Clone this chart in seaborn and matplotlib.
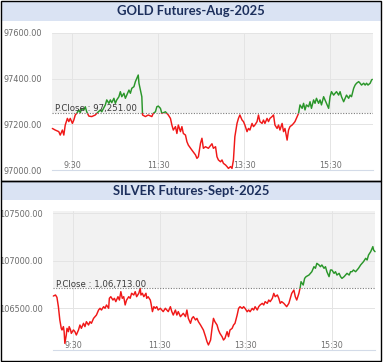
import matplotlib
matplotlib.use("Agg")
import matplotlib.pyplot as plt
import matplotlib.transforms as mtransforms
from matplotlib.patches import Rectangle
from matplotlib.ticker import FuncFormatter
import pandas as pd
import seaborn as sns

# minutes after 9:00
gold_time = [2, 6, 11, 13, 16, 18, 20, 23, 25, 27, 30, 32, 34, 36, 39, 41, 43, 46, 48, 50,
             53, 57, 62, 64, 69, 71, 76, 78, 81, 83, 85, 88, 90, 92, 95, 97, 99, 102, 104, 106,
             109, 111, 113, 116, 118, 120, 122, 123, 125, 127, 128, 132, 136, 141, 143, 146, 148, 150, 153, 155,
             160, 164, 167, 169, 171, 174, 176, 178, 181, 183, 185, 188, 190, 192, 197, 202, 204, 206, 209, 211,
             213, 216, 220, 225, 227, 230, 232, 234, 237, 239, 241, 244, 246, 248, 251, 253, 255, 257, 260, 262,
             264, 267, 269, 271, 274, 276, 278, 281, 283, 285, 288, 290, 292, 295, 297, 299, 302, 304, 306, 309,
             311, 313, 316, 318, 320, 323, 325, 327, 330, 332, 334, 337, 339, 341, 344, 346, 348, 351, 353, 355,
             357, 360, 362, 364, 367, 369, 371, 374, 376, 378, 381, 383, 385, 388, 390, 392, 395, 397, 399, 402,
             404, 406, 409, 411, 413, 416, 418, 420, 423, 425, 427, 430, 432, 434, 437, 439, 441, 443, 446, 448,
             449]
gold_price = [97182, 97175, 97168, 97153, 97175, 97153, 97197, 97226, 97212, 97226, 97204, 97219, 97241, 97248, 97263, 97251, 97270, 97263, 97277, 97255,
              97236, 97234, 97241, 97248, 97263, 97255, 97285, 97307, 97292, 97307, 97295, 97314, 97292, 97307, 97321, 97343, 97321, 97336, 97314, 97328,
              97350, 97336, 97358, 97365, 97387, 97401, 97416, 97380, 97350, 97321, 97241, 97234, 97241, 97234, 97248, 97255, 97277, 97280, 97270, 97248,
              97255, 97241, 97226, 97197, 97175, 97190, 97160, 97197, 97168, 97190, 97160, 97153, 97124, 97109, 97087, 97066, 97051, 97058, 97117, 97139,
              97095, 97102, 97095, 97115, 97095, 97102, 97058, 97044, 97036, 97044, 97029, 97022, 97015, 97007, 97015, 97007, 97044, 97146, 97204, 97226,
              97241, 97219, 97212, 97197, 97168, 97182, 97175, 97204, 97190, 97197, 97212, 97241, 97212, 97204, 97219, 97204, 97226, 97212, 97226, 97234,
              97241, 97197, 97182, 97197, 97175, 97204, 97168, 97182, 97131, 97175, 97190, 97197, 97204, 97212, 97234, 97248, 97285, 97270, 97292, 97263,
              97285, 97277, 97299, 97270, 97307, 97292, 97314, 97292, 97307, 97285, 97321, 97307, 97292, 97270, 97321, 97343, 97328, 97336, 97343, 97328,
              97343, 97321, 97299, 97314, 97328, 97314, 97328, 97321, 97358, 97372, 97380, 97387, 97380, 97372, 97380, 97372, 97380, 97372, 97380, 97394,
              97397]
gold_prev_close = 97251.00

silver_time = [2, 5, 7, 9, 11, 13, 14, 16, 17, 18, 20, 21, 23, 24, 26, 27, 30, 32, 34, 37,
               39, 41, 44, 46, 48, 51, 53, 55, 58, 60, 62, 65, 67, 69, 72, 74, 76, 79, 80, 82,
               85, 87, 89, 92, 94, 96, 98, 100, 102, 104, 107, 109, 111, 114, 116, 118, 121, 123, 124, 126,
               128, 131, 132, 134, 137, 138, 140, 142, 144, 146, 148, 151, 153, 155, 158, 160, 162, 165, 167, 169,
               172, 174, 176, 179, 181, 183, 186, 188, 190, 193, 195, 197, 200, 202, 204, 207, 211, 214, 216, 218,
               221, 223, 225, 227, 230, 232, 234, 237, 239, 241, 244, 246, 248, 251, 253, 255, 258, 260, 262, 265,
               267, 269, 272, 274, 276, 279, 281, 283, 286, 288, 290, 293, 295, 297, 300, 302, 304, 307, 309, 311,
               314, 316, 318, 320, 323, 325, 327, 330, 332, 334, 337, 339, 341, 344, 346, 347, 350, 352, 354, 358,
               360, 362, 365, 367, 369, 372, 374, 376, 379, 381, 383, 386, 388, 390, 393, 395, 397, 400, 402, 404,
               407, 409, 411, 414, 416, 418, 420, 423, 425, 427, 430, 432, 434, 437, 439, 441, 444, 446, 447, 448,
               450]
silver_price = [106631, 106642, 106617, 106519, 106379, 106291, 106274, 106309, 106256, 106133, 106221, 106291, 106256, 106309, 106274, 106238, 106274, 106256, 106221, 106274,
                106326, 106291, 106344, 106309, 106361, 106326, 106361, 106344, 106396, 106414, 106431, 106484, 106502, 106484, 106519, 106502, 106537, 106502, 106607, 106624,
                106589, 106607, 106572, 106624, 106589, 106677, 106607, 106624, 106537, 106589, 106624, 106607, 106660, 106642, 106677, 106624, 106660, 106712, 106642, 106660,
                106624, 106660, 106607, 106624, 106589, 106554, 106467, 106519, 106502, 106519, 106484, 106502, 106484, 106467, 106502, 106484, 106467, 106519, 106467, 106431,
                106484, 106431, 106467, 106414, 106431, 106449, 106414, 106484, 106396, 106344, 106396, 106414, 106379, 106396, 106361, 106326, 106273, 106203, 106151, 106116,
                106168, 106291, 106396, 106361, 106326, 106273, 106238, 106203, 106168, 106186, 106256, 106203, 106273, 106291, 106326, 106344, 106431, 106501, 106519, 106501,
                106519, 106501, 106466, 106484, 106466, 106501, 106484, 106519, 106484, 106519, 106537, 106554, 106537, 106572, 106554, 106589, 106572, 106607, 106659, 106624,
                106642, 106607, 106554, 106572, 106554, 106537, 106519, 106554, 106607, 106659, 106694, 106624, 106589, 106659, 106730, 106782, 106747, 106817, 106835, 106852,
                106870, 106887, 106940, 106923, 106975, 106958, 106940, 106958, 106923, 106940, 106887, 106835, 106905, 106905, 106870, 106887, 106852, 106870, 106835, 106817,
                106835, 106852, 106870, 106852, 106887, 106887, 106905, 106887, 106905, 106923, 106958, 106975, 106993, 107028, 107010, 107063, 107098, 107133, 107151, 107116,
                107098]
silver_prev_close = 106713.00

tick_minutes = [30, 150, 270, 390]
tick_labels = ["9:30", "11:30", "13:30", "15:30"]
gold_yticks = [97000, 97200, 97400, 97600]
silver_yticks = [106500, 107000, 107500]

W, H = 383, 362


def fx(px):
    return px / W


def fy(py):
    return 1 - py / H


def draw_panel(fig, ax, times, prices, prev_close, close_text, yticks, ylim):
    ax.set_xlim(1.5, 450)
    ax.set_ylim(*ylim)
    ax.set_facecolor("white")
    ax.axhspan(prev_close, ylim[1] + 1000, color="#f2f2f2", lw=0, zorder=0)
    ax.set_axisbelow(True)
    ax.grid(True, color="#e4e4e4", lw=0.7)

    df = pd.DataFrame({"t": times, "p": prices})
    bands = [("#2a962a", prev_close, ylim[1] + 1000), ("#f01818", ylim[0] - 1000, prev_close)]
    for color, lo, hi in bands:
        sns.lineplot(data=df, x="t", y="p", ax=ax, color=color, linewidth=1.05,
                     sort=False, estimator=None)
        clip = Rectangle((-100, lo), 700, hi - lo, transform=ax.transData)
        ax.lines[-1].set_clip_path(clip)

    ax.axhline(prev_close, color="#7a7a7a", lw=0.8, ls=(0, (1, 1.4)), zorder=3)
    trans = mtransforms.offset_copy(ax.transData, fig=fig, y=1.2, units="dots")
    ax.text(6, prev_close, close_text, transform=trans, fontsize=6.2,
            color="#3a3a3a", va="baseline", ha="left", zorder=4)

    ax.set_xticks(tick_minutes)
    ax.set_xticklabels(tick_labels)
    ax.set_yticks(yticks)
    ax.yaxis.set_major_formatter(FuncFormatter(lambda v, _: f"{v:.2f}"))
    ax.tick_params(axis="x", length=0, pad=-6.3, labelsize=5.8, labelcolor="#707070")
    ax.tick_params(axis="y", length=0, pad=7.2, labelsize=5.9, labelcolor="#6a6a6a")
    ax.set_xlabel("")
    ax.set_ylabel("")
    for side in ["left", "right", "top"]:
        ax.spines[side].set_visible(False)
    ax.spines["bottom"].set_color("#d3dbe8")
    ax.spines["bottom"].set_linewidth(0.8)


sns.set_style("white")
plt.rcParams["font.family"] = ["DejaVu Sans"]

fig = plt.figure(figsize=(W / 100, H / 100), dpi=100)

ax1 = fig.add_axes([fx(52), fy(170), fx(373) - fx(52), fy(33) - fy(170)])
ax2 = fig.add_axes([fx(53), fy(350), fx(375) - fx(53), fy(211) - fy(350)])

draw_panel(fig, ax1, gold_time, gold_price, gold_prev_close,
           "P.Close : 97,251.00", gold_yticks, (97000, 97600))
draw_panel(fig, ax2, silver_time, silver_price, silver_prev_close,
           "P.Close : 1,06,713.00", silver_yticks, (106063, 107526))

# title bands
for top, bottom, title in [(1, 21, "GOLD Futures-Aug-2025"), (182, 200, "SILVER Futures-Sept-2025")]:
    fig.add_artist(Rectangle((fx(1), fy(bottom)), fx(380), fy(top) - fy(bottom),
                             transform=fig.transFigure, facecolor="#dae3f3",
                             edgecolor="none", zorder=0))
    fig.text(fx(191), fy((top + bottom) / 2), title, ha="center", va="center",
             fontsize=9.4, fontweight="bold", color="#1c2f5c", family=["Lato", "DejaVu Sans"])

# panel borders
for top, bottom in [(0.5, 181), (181, 361)]:
    fig.add_artist(Rectangle((fx(0.6), fy(bottom)), fx(380.6), fy(top) - fy(bottom),
                             transform=fig.transFigure, fill=False,
                             edgecolor="black", lw=1.0, zorder=5))

fig.savefig("out.png", dpi=100)
